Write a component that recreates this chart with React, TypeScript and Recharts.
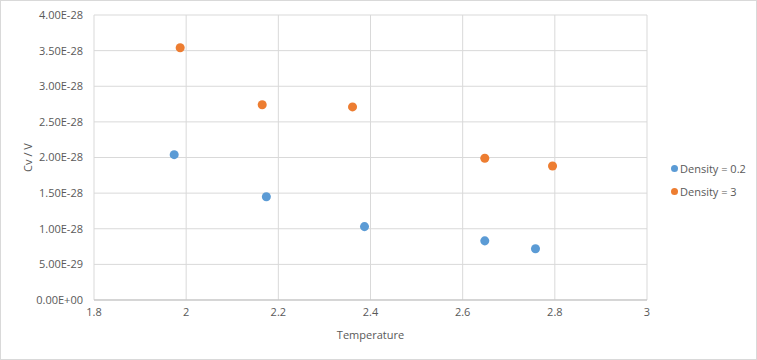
import React from 'react';
import {
  CartesianGrid,
  Legend,
  Scatter,
  ScatterChart,
  XAxis,
  YAxis,
  ZAxis,
} from 'recharts';

// values (Cv / V in units of 1e-28)
const lowDensityTemps = [1.974, 2.174, 2.387, 2.648, 2.758];
const lowDensityCv = [2.04, 1.45, 1.03, 0.83, 0.72];
const highDensityTemps = [1.987, 2.165, 2.361, 2.648, 2.795];
const highDensityCv = [3.54, 2.74, 2.71, 1.99, 1.88];

const xTicks = [1.8, 2, 2.2, 2.4, 2.6, 2.8, 3];
const yTicks = [0, 0.5, 1, 1.5, 2, 2.5, 3, 3.5, 4].map((v) => v * 1e-28);

const seriesNames = ['Density = 0.2', 'Density = 3'];
const seriesColors = ['#5B9BD5', '#ED7D31'];

const lowDensity = lowDensityTemps.map((t, i) => ({ t, cv: lowDensityCv[i] * 1e-28 }));
const highDensity = highDensityTemps.map((t, i) => ({ t, cv: highDensityCv[i] * 1e-28 }));

const FONT = '"Open Sans", sans-serif';
const TEXT = '#595959';

const formatSci = (v: number) => {
  const [mant, exp] = v.toExponential(2).toUpperCase().split('E');
  const sign = exp.startsWith('-') ? '-' : '+';
  const digits = exp.replace(/[+-]/, '').padStart(2, '0');
  return `${mant}E${sign}${digits}`;
};

const LegendContent = () => (
  <div style={{ fontFamily: FONT, fontSize: 11, color: TEXT }}>
    {seriesNames.map((name, i) => (
      <div key={name} style={{ display: 'flex', alignItems: 'center', height: 23 }}>
        <span
          style={{
            width: 7,
            height: 7,
            borderRadius: '50%',
            background: seriesColors[i],
            marginRight: 2,
            display: 'inline-block',
          }}
        />
        <span>{name}</span>
      </div>
    ))}
  </div>
);

const App = () => {
  return (
    <div
      style={{
        position: 'absolute',
        left: 0,
        top: 0,
        width: 757,
        height: 360,
        border: '1px solid #d9d9d9',
        boxSizing: 'border-box',
        background: '#fff',
      }}
    >
      <ScatterChart
        width={755}
        height={358}
        margin={{ top: 14, right: 109, left: 19, bottom: 20 }}
      >
        <CartesianGrid stroke="#d9d9d9" />
        <XAxis
          type="number"
          dataKey="t"
          domain={[1.8, 3]}
          ticks={xTicks}
          height={39}
          axisLine={{ stroke: '#bfbfbf' }}
          tickLine={false}
          tick={{ fill: TEXT, fontSize: 11, fontFamily: FONT }}
          label={{
            value: 'Temperature',
            position: 'insideBottom',
            offset: 0,
            style: { fill: TEXT, fontSize: 11, fontFamily: FONT },
          }}
        />
        <YAxis
          type="number"
          dataKey="cv"
          domain={[0, 4e-28]}
          ticks={yTicks}
          width={74}
          axisLine={false}
          tickLine={false}
          tickMargin={5}
          tickFormatter={formatSci}
          tick={{ fill: TEXT, fontSize: 11, fontFamily: FONT }}
          label={{
            value: 'Cv / V',
            angle: -90,
            position: 'insideLeft',
            offset: 8,
            style: { fill: TEXT, fontSize: 11, fontFamily: FONT, textAnchor: 'middle' },
          }}
        />
        <ZAxis range={[40, 40]} />
        <Legend
          layout="horizontal"
          verticalAlign="middle"
          wrapperStyle={{ left: 670, top: 156, width: 90 }}
          content={<LegendContent />}
        />
        <Scatter
          name={seriesNames[0]}
          data={lowDensity}
          fill={seriesColors[0]}
          isAnimationActive={false}
        />
        <Scatter
          name={seriesNames[1]}
          data={highDensity}
          fill={seriesColors[1]}
          isAnimationActive={false}
        />
      </ScatterChart>
    </div>
  );
};

export default App;
